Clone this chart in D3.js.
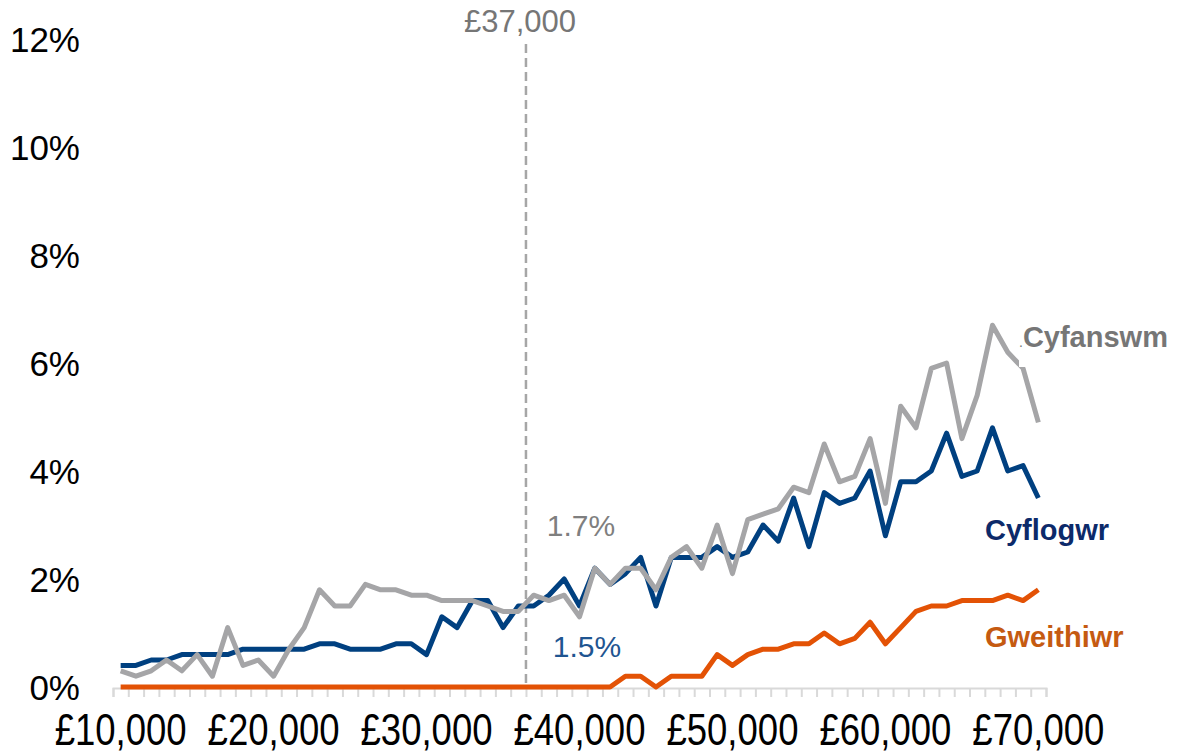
<!DOCTYPE html>
<html>
<head>
<meta charset="utf-8">
<script src="https://cdn.jsdelivr.net/npm/d3@7"></script>
<style>
  html, body { margin: 0; padding: 0; background: #ffffff; }
  svg { display: block; }
  text { font-family: "Liberation Sans", Arial, sans-serif; }
</style>
</head>
<body>
<svg id="chart" width="1179" height="754"></svg>
<script>
// ---- Data ----
const salaries = [10000, 11000, 12000, 13000, 14000, 15000, 16000, 17000, 18000, 19000,
  20000, 21000, 22000, 23000, 24000, 25000, 26000, 27000, 28000, 29000,
  30000, 31000, 32000, 33000, 34000, 35000, 36000, 37000, 38000, 39000,
  40000, 41000, 42000, 43000, 44000, 45000, 46000, 47000, 48000, 49000,
  50000, 51000, 52000, 53000, 54000, 55000, 56000, 57000, 58000, 59000,
  60000, 61000, 62000, 63000, 64000, 65000, 66000, 67000, 68000, 69000,
  70000];

const cyfanswm = [0.3,0.2,0.3,0.5,0.3,0.6,0.2,1.1,0.4,0.5,
  0.2,0.7,1.1,1.8,1.5,1.5,1.9,1.8,1.8,1.7,
  1.7,1.6,1.6,1.6,1.5,1.4,1.4,1.7,1.6,1.7,
  1.3,2.2,1.9,2.2,2.2,1.8,2.4,2.6,2.2,3.0,
  2.1,3.1,3.2,3.3,3.7,3.6,4.5,3.8,3.9,4.6,
  3.4,5.2,4.8,5.9,6.0,4.6,5.4,6.7,6.2,5.9,
  4.9];

const cyflogwr = [0.4,0.4,0.5,0.5,0.6,0.6,0.6,0.6,0.7,0.7,
  0.7,0.7,0.7,0.8,0.8,0.7,0.7,0.7,0.8,0.8,
  0.6,1.3,1.1,1.6,1.6,1.1,1.5,1.5,1.7,2.0,
  1.5,2.2,1.9,2.1,2.4,1.5,2.4,2.4,2.4,2.6,
  2.4,2.5,3.0,2.7,3.5,2.6,3.6,3.4,3.5,4.0,
  2.8,3.8,3.8,4.0,4.7,3.9,4.0,4.8,4.0,4.1,
  3.5];

const gweithiwr = [0,0,0,0,0,0,0,0,0,0,
  0,0,0,0,0,0,0,0,0,0,
  0,0,0,0,0,0,0,0,0,0,
  0,0,0,0.2,0.2,0,0.2,0.2,0.2,0.6,
  0.4,0.6,0.7,0.7,0.8,0.8,1.0,0.8,0.9,1.2,
  0.8,1.1,1.4,1.5,1.5,1.6,1.6,1.6,1.7,1.6,
  1.8];

const yTicks = [0, 2, 4, 6, 8, 10, 12];
const xTickLabels = [10000, 20000, 30000, 40000, 50000, 60000, 70000];
const markerSalary = 37000;
const markerLabel = "£37,000";
const markerCyfanswm = "1.7%";
const markerCyflogwr = "1.5%";

// ---- Layout ----
const svg = d3.select("#chart");
const plot = { left: 113, right: 1046, top: 39, bottom: 687 };

const x = d3.scaleBand().domain(salaries).range([plot.left, plot.right]).paddingInner(0).paddingOuter(0);
const xc = d => x(d) + x.bandwidth() / 2;
const y = d3.scaleLinear().domain([0, 12]).range([plot.bottom, plot.top]);

const fmtPound = v => "£" + d3.format(",")(v);

// ---- Y axis labels ----
const yAxis = d3.axisLeft(y).tickValues(yTicks).tickSize(0).tickPadding(0).tickFormat(d => d + "%");
const gy = svg.append("g").attr("transform", "translate(80,0)").call(yAxis);
gy.select(".domain").remove();
gy.selectAll("text")
  .style("font-family", "'Liberation Sans', Arial, sans-serif")
  .style("font-size", "35px")
  .attr("fill", "#000")
  .attr("dy", "0.36em");

// ---- X axis line and ticks (band edges) ----
const xEdge = d3.scaleLinear().domain([0, salaries.length]).range([plot.left, plot.right]);
const xAxisTicks = d3.axisBottom(xEdge).tickValues(d3.range(salaries.length + 1)).tickSize(9).tickSizeOuter(9).tickFormat("");
const gx = svg.append("g").attr("transform", `translate(0,${plot.bottom + 1})`).call(xAxisTicks);
gx.select(".domain").attr("stroke", "#d9d9d9").attr("stroke-width", 2);
gx.selectAll(".tick line").attr("stroke", "#d9d9d9").attr("stroke-width", 2);

// ---- X labels (condensed, as in the original) ----
const xAxisLabels = d3.axisBottom(x).tickValues(xTickLabels).tickSize(0).tickPadding(0).tickFormat(fmtPound);
const gxl = svg.append("g").attr("transform", `translate(0,${plot.bottom + 58})`).call(xAxisLabels);
gxl.select(".domain").remove();
gxl.selectAll("text")
  .attr("dy", 0)
  .style("font-family", "'Liberation Sans', Arial, sans-serif")
  .style("font-size", "44px")
  .attr("textLength", 132)
  .attr("lengthAdjust", "spacingAndGlyphs")
  .attr("fill", "#000");

// ---- Marker dashed line ----
const markerX = x(markerSalary);
svg.append("line")
  .attr("x1", markerX).attr("x2", markerX)
  .attr("y1", 44).attr("y2", plot.bottom)
  .attr("stroke", "#a6a6a6").attr("stroke-width", 2.5)
  .attr("stroke-dasharray", "9,5");

svg.append("text")
  .attr("x", markerX - 6).attr("y", 32)
  .attr("text-anchor", "middle")
  .attr("fill", "#767676")
  .style("font-size", "31px")
  .text(markerLabel);

// ---- Lines ----
const line = d3.line().x((d, i) => xc(salaries[i])).y(d => y(d));
const series = [
  { name: "Gweithiwr", values: gweithiwr, color: "#e35205" },
  { name: "Cyflogwr", values: cyflogwr, color: "#004080" },
  { name: "Cyfanswm", values: cyfanswm, color: "#a5a5a7" }
];
svg.append("g").selectAll("path").data(series).join("path")
  .attr("d", d => line(d.values))
  .attr("fill", "none")
  .attr("stroke", d => d.color)
  .attr("stroke-width", 5)
  .attr("stroke-linejoin", "round")
  .attr("stroke-linecap", "butt");

// ---- Marker value labels ----
svg.append("text")
  .attr("x", 581).attr("y", 536)
  .attr("text-anchor", "middle")
  .attr("fill", "#7f7f7f")
  .style("font-size", "30px")
  .text(markerCyfanswm);
svg.append("text")
  .attr("x", 587).attr("y", 657)
  .attr("text-anchor", "middle")
  .attr("fill", "#1f5591")
  .style("font-size", "30px")
  .text(markerCyflogwr);

// ---- Series labels ----
svg.append("rect")
  .attr("x", 1019).attr("y", 318).attr("width", 156).attr("height", 49)
  .attr("fill", "#ffffff");
const lab1 = svg.append("text")
  .attr("x", 1019).attr("y", 347)
  .attr("fill", "#767676")
  .style("font-size", "29px")
  .style("font-weight", "bold");
lab1.append("tspan").style("font-size", "14px").style("font-weight", "normal").text(".");
lab1.append("tspan").text("Cyfanswm");

svg.append("text")
  .attr("x", 985).attr("y", 540)
  .attr("fill", "#0c2a6a")
  .style("font-size", "29px")
  .style("font-weight", "bold")
  .text("Cyflogwr");

svg.append("text")
  .attr("x", 985).attr("y", 647)
  .attr("fill", "#c55a11")
  .style("font-size", "29px")
  .style("font-weight", "bold")
  .text("Gweithiwr");
</script>
</body>
</html>
